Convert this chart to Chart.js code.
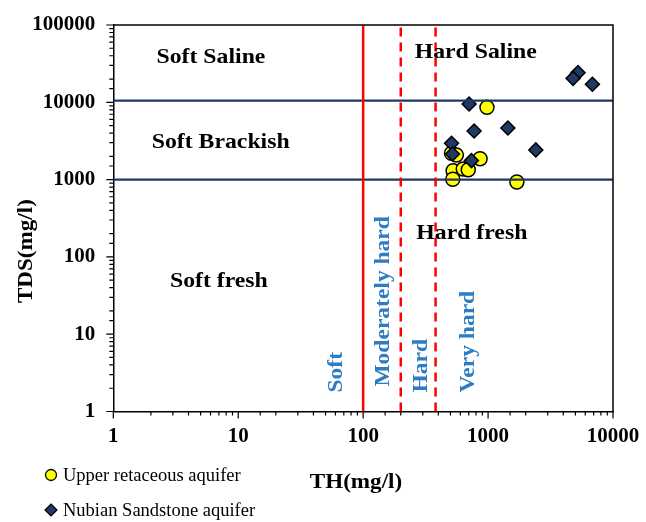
<!DOCTYPE html>
<html>
<head>
<meta charset="utf-8">
<script src="https://cdn.jsdelivr.net/npm/chart.js@4.4.1/dist/chart.umd.min.js"></script>
<style>
  html, body { margin: 0; padding: 0; background: #fff; }
  #wrap { position: relative; width: 646px; height: 522px; }
  #legend { position: absolute; left: 0; top: 0; font-family: 'Liberation Serif', 'Times New Roman', serif; font-size: 18.5px; color: #000; }
  .item { position: absolute; left: 44px; display: flex; align-items: center; white-space: nowrap; line-height: 18px; height: 18px; }
  .item svg { display: block; margin-right: 5px; }
</style>
</head>
<body>
<div id="wrap">
  <canvas id="c" width="646" height="522"></canvas>
  <div id="legend"></div>
</div>
<script>
// Upper Cretaceous aquifer samples: total hardness vs total dissolved solids (mg/l)
const upperTH  = [980, 510, 557, 863, 525, 633, 694, 522, 1700];
const upperTDS = [8600, 2190, 2080, 1860, 1300, 1370, 1340, 1010, 930];

// Nubian Sandstone aquifer samples
const nubianTH  = [5250, 4790, 6840, 705, 773, 1440, 510, 519, 736, 2410];
const nubianTDS = [24200, 20400, 17100, 9510, 4250, 4650, 2950, 2140, 1760, 2420];

// Axis tick labels (decades)
const thTicks  = [1, 10, 100, 1000, 10000];
const tdsTicks = [1, 10, 100, 1000, 10000, 100000];

// Class limits
const hardnessLimits = [100, 200, 380];   // soft | moderately hard | hard | very hard
const salinityLimits = [1000, 10500];     // fresh | brackish | saline

// Class names written inside the plot, anchored at (TH, TDS)
const salinityNames = ['Soft Saline', 'Hard Saline', 'Soft Brackish', 'Hard fresh', 'Soft fresh'];
const salinityAnchorTH  = [6.05, 797, 7.24, 741, 7.0];
const salinityAnchorTDS = [38000, 44100, 3050, 201, 48.5];

const hardnessNames = ['Soft', 'Moderately hard', 'Hard', 'Very hard'];
const hardnessAnchorTH  = [61.3, 144.5, 293, 692];
const hardnessAnchorTDS = [1.76, 2.1, 1.76, 1.76];

const SERIF = "'Liberation Serif', 'Times New Roman', serif";
const NAVY = '#1F3864';
const RED = '#FF0000';
const BLUE = '#2E7CC2';

const toPoints = (xs, ys) => xs.map((v, i) => ({ x: v, y: ys[i] }));
const isDecade = v => Math.abs(Math.log10(v) - Math.round(Math.log10(v))) < 1e-9;

const hardnessLines = hardnessLimits.map((v, i) => ({
  data: [{ x: v, y: tdsTicks[0] }, { x: v, y: tdsTicks[tdsTicks.length - 1] }],
  showLine: true, borderColor: RED, borderWidth: 2.5,
  borderDash: i === 0 ? [] : [9, 6],
  pointRadius: 0, order: 0
}));
const salinityLines = salinityLimits.map(v => ({
  data: [{ x: thTicks[0], y: v }, { x: thTicks[thTicks.length - 1], y: v }],
  showLine: true, borderColor: NAVY, borderWidth: 2.25,
  pointRadius: 0, order: 0
}));

const upperSet = {
  label: 'Upper retaceous aquifer',
  data: toPoints(upperTH, upperTDS),
  pointStyle: 'circle', pointRadius: 7,
  backgroundColor: '#FFFF00', borderColor: '#000', borderWidth: 1.5,
  order: 2
};
const nubianSet = {
  label: 'Nubian Sandstone aquifer',
  data: toPoints(nubianTH, nubianTDS),
  pointStyle: 'rectRot', pointRadius: 7,
  backgroundColor: NAVY, borderColor: '#000', borderWidth: 1.5,
  order: 1
};

function stretchedText(ctx, text, x, y, sx, rot, align) {
  ctx.save();
  ctx.translate(x, y);
  if (rot) ctx.rotate(rot);
  ctx.scale(sx, 1);
  ctx.textAlign = align;
  ctx.textBaseline = 'middle';
  ctx.fillText(text, 0, 0);
  ctx.restore();
}

const decorations = {
  id: 'decorations',
  afterDatasetsDraw(chart) {
    const { ctx, scales: { x, y } } = chart;
    ctx.save();
    ctx.fillStyle = '#000';
    ctx.font = `bold 22px ${SERIF}`;
    salinityNames.forEach((t, i) => {
      stretchedText(ctx, t, x.getPixelForValue(salinityAnchorTH[i]), y.getPixelForValue(salinityAnchorTDS[i]), 1.08, 0, 'center');
    });
    ctx.fillStyle = BLUE;
    ctx.font = `bold 21px ${SERIF}`;
    hardnessNames.forEach((t, i) => {
      stretchedText(ctx, t, x.getPixelForValue(hardnessAnchorTH[i]), y.getPixelForValue(hardnessAnchorTDS[i]), 1.12, -Math.PI / 2, 'left');
    });
    ctx.restore();
  },
  afterDraw(chart) {
    const { ctx, chartArea: a, scales: { x, y } } = chart;
    ctx.save();
    // frame: top and right edges
    ctx.strokeStyle = '#000';
    ctx.lineWidth = 1.5;
    ctx.beginPath();
    ctx.moveTo(a.left, a.top);
    ctx.lineTo(a.right, a.top);
    ctx.lineTo(a.right, a.bottom);
    ctx.stroke();
    // tick marks, longer at each decade
    ctx.lineWidth = 1.2;
    ctx.beginPath();
    x.ticks.forEach(t => {
      const px = x.getPixelForValue(t.value);
      const len = isDecade(t.value) ? 7 : 4;
      ctx.moveTo(px, a.bottom);
      ctx.lineTo(px, a.bottom + len);
    });
    y.ticks.forEach(t => {
      const py = y.getPixelForValue(t.value);
      const len = isDecade(t.value) ? 7 : 4;
      ctx.moveTo(a.left - len, py);
      ctx.lineTo(a.left, py);
    });
    ctx.stroke();
    // axis titles
    ctx.fillStyle = '#000';
    ctx.font = `bold 21px ${SERIF}`;
    stretchedText(ctx, 'TH(mg/l)', 356, 483, 1.1, 0, 'center');
    stretchedText(ctx, 'TDS(mg/l)', 27, a.top + (a.bottom - a.top) * 0.585, 1.1, -Math.PI / 2, 'center');
    ctx.restore();
  }
};

const tickFont = { family: SERIF, size: 21, weight: 'bold' };

const chart = new Chart(document.getElementById('c'), {
  type: 'scatter',
  data: { datasets: [...hardnessLines, ...salinityLines, nubianSet, upperSet] },
  options: {
    responsive: false,
    animation: false,
    devicePixelRatio: 1,
    layout: { padding: { top: 25, right: 33, left: 0, bottom: 0 } },
    plugins: { legend: { display: false }, tooltip: { enabled: false } },
    scales: {
      x: {
        type: 'logarithmic', min: thTicks[0], max: thTicks[thTicks.length - 1],
        afterFit: s => { s.height = 110.5; },
        border: { display: true, color: '#000', width: 1.5 },
        grid: { display: true, drawOnChartArea: false, drawTicks: true, tickLength: 7, color: 'rgba(0,0,0,0)' },
        ticks: {
          autoSkip: false, maxRotation: 0, padding: 5, color: '#000', font: tickFont,
          callback: v => (thTicks.includes(v) ? String(v) : '')
        }
      },
      y: {
        type: 'logarithmic', min: tdsTicks[0], max: tdsTicks[tdsTicks.length - 1],
        afterFit: s => { s.width = 113.3; },
        border: { display: true, color: '#000', width: 1.5 },
        grid: { display: true, drawOnChartArea: false, drawTicks: true, tickLength: 7, color: 'rgba(0,0,0,0)' },
        ticks: {
          autoSkip: false, padding: 11, color: '#000', font: tickFont,
          callback: v => (tdsTicks.includes(v) ? String(v) : '')
        }
      }
    }
  },
  plugins: [decorations]
});

// Legend below the plot, built from the two sample series
const legendTop = [466, 501];
const legend = document.getElementById('legend');
[upperSet, nubianSet].forEach((ds, i) => {
  const row = document.createElement('div');
  row.className = 'item';
  row.style.top = legendTop[i] + 'px';
  const marker = ds.pointStyle === 'circle'
    ? `<circle cx="7" cy="7" r="5.5" fill="${ds.backgroundColor}" stroke="#000" stroke-width="1.3"/>`
    : `<polygon points="7,1 13,7 7,13 1,7" fill="${ds.backgroundColor}" stroke="#000" stroke-width="1.2"/>`;
  row.innerHTML = `<svg width="14" height="14" viewBox="0 0 14 14">${marker}</svg><span>${ds.label}</span>`;
  legend.appendChild(row);
});
</script>
</body>
</html>
